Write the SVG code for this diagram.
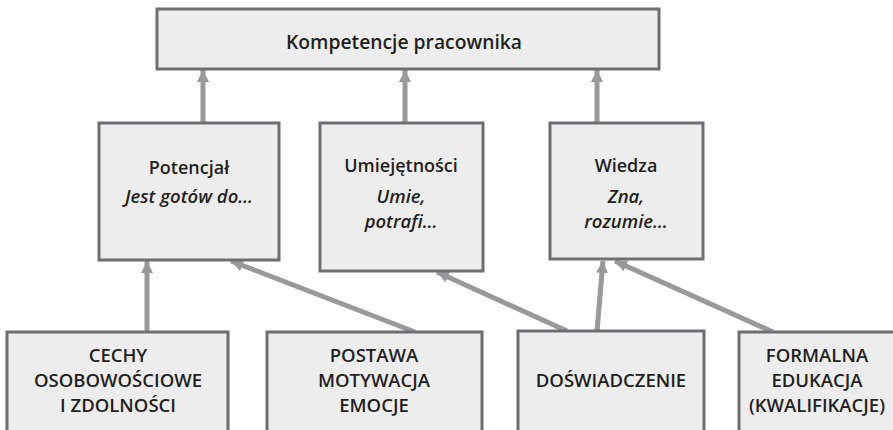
<svg xmlns="http://www.w3.org/2000/svg" width="893" height="430" viewBox="0 0 893 430">
<defs>
<style>
.box{fill:#ededed;stroke:#6d6e71;stroke-width:3}
.t{font-family:"Open Sans","Liberation Sans",sans-serif;font-weight:600;fill:#231f20;text-anchor:middle}
.k{font-size:19.3px}
.h{font-size:18px}
.i{font-size:18.5px;font-style:italic}
.c{font-size:18.5px}
.con line{stroke:#98999c;stroke-width:5;fill:none}
</style>
<marker id="ah" markerUnits="userSpaceOnUse" viewBox="0 0 12 12" refX="12" refY="6" markerWidth="12" markerHeight="12" orient="auto">
<path d="M0,0 L12,6 L0,12 Z" fill="#98999c"/>
</marker>
</defs>
<rect width="893" height="430" fill="#ffffff"/>
<g class="con">
<line x1="203" y1="123" x2="203" y2="70" marker-end="url(#ah)"/>
<line x1="405" y1="123" x2="405" y2="70" marker-end="url(#ah)"/>
<line x1="597" y1="123" x2="597" y2="70" marker-end="url(#ah)"/>
<line x1="147" y1="332" x2="147" y2="261" marker-end="url(#ah)"/>
<line x1="415" y1="332" x2="231" y2="261" marker-end="url(#ah)"/>
<line x1="567" y1="331" x2="437" y2="272" marker-end="url(#ah)"/>
<line x1="597" y1="331" x2="603" y2="261" marker-end="url(#ah)"/>
<line x1="773" y1="332" x2="615" y2="261" marker-end="url(#ah)"/>
</g>
<g id="kompetencje">
<rect class="box" x="157" y="9" width="502" height="60"/>
<text class="t k" x="404" y="49">Kompetencje pracownika</text>
</g>
<g id="potencjal">
<rect class="box" x="99" y="123" width="180" height="137"/>
<text class="t h" x="189" y="174">Potencjał</text>
<text class="t i" x="189" y="203">Jest gotów do…</text>
</g>
<g id="umiejetnosci">
<rect class="box" x="320" y="123" width="163" height="148"/>
<text class="t h" x="401" y="172">Umiejętności</text>
<text class="t i" x="401" y="203">Umie,</text>
<text class="t i" x="401" y="228">potrafi…</text>
</g>
<g id="wiedza">
<rect class="box" x="550" y="123" width="153" height="136"/>
<text class="t h" x="626" y="172">Wiedza</text>
<text class="t i" x="626" y="203">Zna,</text>
<text class="t i" x="626" y="228">rozumie…</text>
</g>
<g id="cechy">
<rect class="box" x="7" y="332" width="221" height="110"/>
<text class="t c" x="118" y="362">CECHY</text>
<text class="t c" x="118" y="387">OSOBOWOŚCIOWE</text>
<text class="t c" x="118" y="412">I ZDOLNOŚCI</text>
</g>
<g id="postawa">
<rect class="box" x="267" y="332" width="215" height="110"/>
<text class="t c" x="374" y="362">POSTAWA</text>
<text class="t c" x="374" y="387">MOTYWACJA</text>
<text class="t c" x="374" y="412">EMOCJE</text>
</g>
<g id="doswiadczenie">
<rect class="box" x="518" y="331" width="186" height="110"/>
<text class="t c" x="611" y="387">DOŚWIADCZENIE</text>
</g>
<g id="formalna">
<rect class="box" x="739" y="332" width="170" height="110"/>
<text class="t c" x="817" y="362">FORMALNA</text>
<text class="t c" x="817" y="387">EDUKACJA</text>
<text class="t c" x="817" y="412">(KWALIFIKACJE)</text>
</g>
</svg>
